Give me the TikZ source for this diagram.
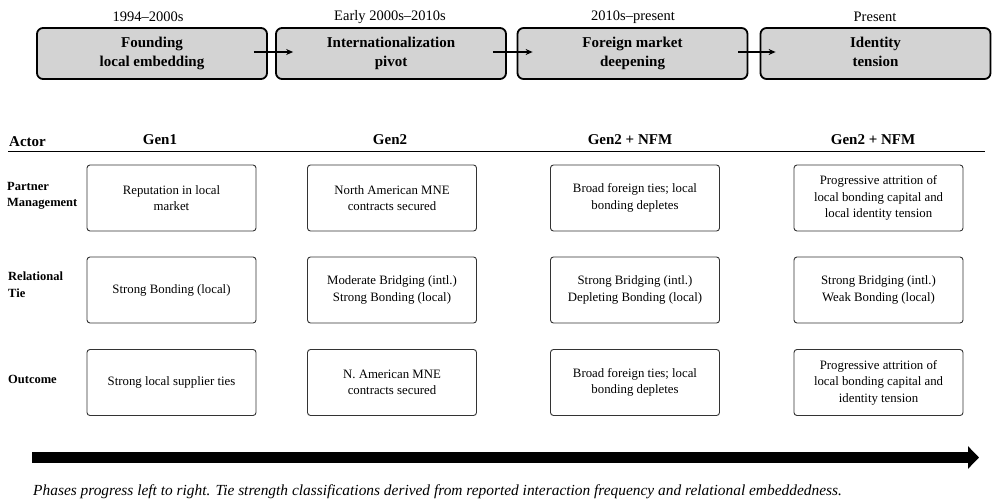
\documentclass[tikz,border=0pt]{standalone}
\usepackage{fontspec}
\setmainfont{Liberation Serif}
\usetikzlibrary{arrows.meta}
\definecolor{phasegray}{HTML}{D3D3D3}
\definecolor{cellline}{HTML}{333333}

\begin{document}
\begin{tikzpicture}[x=1pt,y=-1pt,
  phasebox/.style={draw=black, line width=1.8pt, rounded corners=6pt, fill=phasegray,
    minimum width=230pt, minimum height=51pt, inner sep=0pt, align=center,
    font=\fontsize{15}{19}\selectfont\bfseries},
  period/.style={font=\fontsize{14.5}{17}\selectfont, inner sep=0pt},
  phaselink/.style={line width=1.1pt, -{Stealth[length=7pt,width=6pt]}},
  colhead/.style={font=\fontsize{15}{18}\selectfont\bfseries, inner sep=0pt},
  rowhead/.style={font=\fontsize{12.5}{16.5}\selectfont\bfseries, align=left, anchor=west, inner sep=0pt},
  cell/.style={draw=cellline, line width=0.9pt, rounded corners=3pt, fill=white,
    minimum width=169pt, minimum height=66pt, inner sep=0pt, align=center,
    font=\fontsize{12.8}{16.5}\selectfont},
  timeline/.style={line width=11pt, -{Triangle[length=11pt,width=22pt]}}
]
\useasboundingbox (0,0) rectangle (992,503);

% phase boxes and their periods
\node[phasebox] (p1) at (152,53.5) {\strut Founding\\local embedding\strut};
\node[phasebox] (p2) at (391,53.5) {\strut Internationalization\\pivot\strut};
\node[phasebox] (p3) at (632.5,53.5) {\strut Foreign market\\deepening\strut};
\node[phasebox] (p4) at (875.5,53.5) {\strut Identity\\tension\strut};

\node[period] (t1) at (148,17) {1994–2000s};
\node[period] (t2) at (390,17) {Early 2000s–2010s};
\node[period] (t3) at (633,17) {2010s–present};
\node[period] (t4) at (875,17) {Present};

\draw[phaselink] ([xshift=-14pt,yshift=1.5pt]p1.east) -- ([xshift=18pt,yshift=1.5pt]p2.west);
\draw[phaselink] ([xshift=-14pt,yshift=1.5pt]p2.east) -- ([xshift=16pt,yshift=1.5pt]p3.west);
\draw[phaselink] ([xshift=-10pt,yshift=1.5pt]p3.east) -- ([xshift=16pt,yshift=1.5pt]p4.west);

% table header
\node[colhead, anchor=west] (actor) at (9,142) {Actor};
\node[colhead] (g1) at (160,140) {Gen1};
\node[colhead] (g2) at (390,140) {Gen2};
\node[colhead] (g3) at (630,140) {Gen2 + NFM};
\node[colhead] (g4) at (873,140) {Gen2 + NFM};
\coordinate (ruleL) at (8,151.5);
\coordinate (ruleR) at (985,151.5);
\draw[line width=1.2pt] (ruleL) -- (ruleR);

% row labels
\node[rowhead] (rPM) at (7,196) {Partner\\Management};
\node[rowhead] (rRT) at (8,284.5) {Relational\\Tie};
\node[rowhead] (rOC) at (8,379) {Outcome};

% cells
\node[cell] (c11) at (171.5,198) {Reputation in local\\market};
\node[cell] (c12) at (392,198) {North American MNE\\contracts secured};
\node[cell] (c13) at (635,198) {Broad foreign ties; local\\bonding depletes};
\node[cell] (c14) at (878.5,198) {Progressive attrition of\\local bonding capital and\\local identity tension};

\node[cell] (c21) at (171.5,290) {Strong Bonding (local)};
\node[cell] (c22) at (392,290) {Moderate Bridging (intl.)\\Strong Bonding (local)};
\node[cell] (c23) at (635,290) {Strong Bridging (intl.)\\Depleting Bonding (local)};
\node[cell] (c24) at (878.5,290) {Strong Bridging (intl.)\\Weak Bonding (local)};

\node[cell] (c31) at (171.5,382.5) {Strong local supplier ties};
\node[cell] (c32) at (392,382.5) {N. American MNE\\contracts secured};
\node[cell] (c33) at (635,382.5) {Broad foreign ties; local\\bonding depletes};
\node[cell] (c34) at (878.5,382.5) {Progressive attrition of\\local bonding capital and\\identity tension};

% time arrow
\coordinate (tlS) at (32,457.5);
\coordinate (tlE) at (979,457.5);
\draw[timeline] (tlS) -- (tlE);

% note
\node[anchor=base west, inner sep=0pt, font=\fontsize{15.4}{18}\selectfont\itshape] (note) at (33,495)
  {Phases progress left to right. Tie strength classifications derived from reported interaction frequency and relational embeddedness.};
\end{tikzpicture}
\end{document}
